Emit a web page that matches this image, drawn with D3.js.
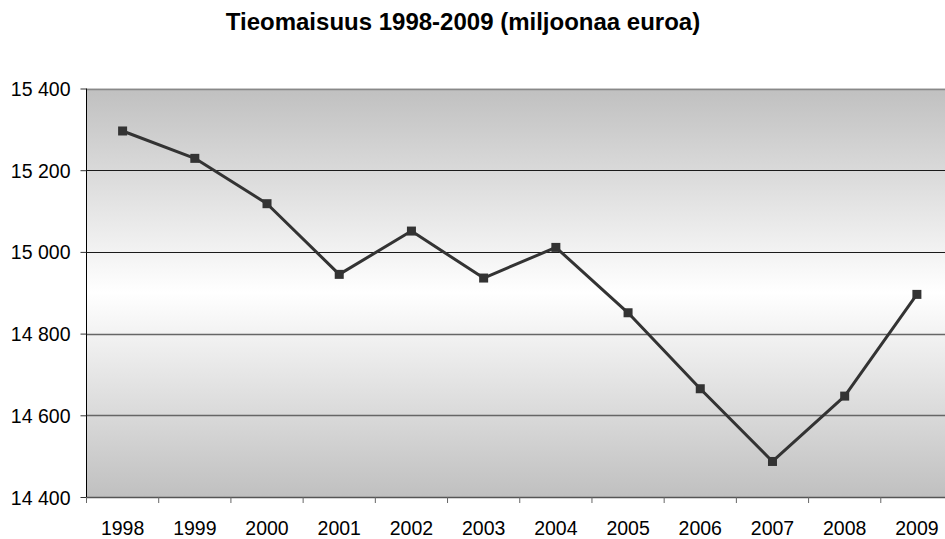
<!DOCTYPE html>
<html><head><meta charset="utf-8">
<script src="https://cdn.jsdelivr.net/npm/d3@7"></script>
<style>body{margin:0;background:#fff;overflow:hidden}svg{display:block}</style>
</head><body><svg id="c" width="945" height="539"></svg>
<script>
const years = ["1998","1999","2000","2001","2002","2003","2004","2005","2006","2007","2008","2009"];
const values = [15296,15229,15118,14945,15051,14936,15011,14851,14665,14487,14647,14896];
const yTicks = [14400,14600,14800,15000,15200,15400];
const title = "Tieomaisuus 1998-2009 (miljoonaa euroa)";

const svg = d3.select("#c");
const L = 86.5, R = 953, T = 88.5, B = 497;
const x = d3.scaleBand().domain(years).range([L, R]);
const y = d3.scaleLinear().domain([14400, 15400]).range([B, T]);
const font = "'Liberation Sans', Arial, sans-serif";

const defs = svg.append("defs");
const g = defs.append("linearGradient").attr("id","bg").attr("x1",0).attr("y1",0).attr("x2",0).attr("y2",1);
g.append("stop").attr("offset","0%").attr("stop-color","#c0c0c0");
g.append("stop").attr("offset","50%").attr("stop-color","#ffffff");
g.append("stop").attr("offset","100%").attr("stop-color","#c0c0c0");

svg.append("rect").attr("x",L).attr("y",T).attr("width",R-L).attr("height",B-T).attr("fill","url(#bg)");

// gridlines
yTicks.forEach(t => {
  if (t === 14400) return;
  svg.append("line").attr("x1",L).attr("x2",R).attr("y1",Math.round(y(t))+0.5).attr("y2",Math.round(y(t))+0.5)
    .attr("stroke", t===15400 ? "#888" : (t>=15000 ? "#1a1a1a" : "#666")).attr("stroke-width", t>=15000 && t<15400 ? 1 : 1.3);
});

// y axis
const ya = svg.append("g").attr("transform",`translate(${L},0)`)
  .call(d3.axisLeft(y).tickValues(yTicks).tickSize(6).tickPadding(10)
    .tickFormat(d => d3.format(",")(d).replace(",", " ")));
ya.select(".domain").attr("stroke","#000").attr("d",`M0,${T}V${B}`);
ya.selectAll("line").attr("stroke","#333");
ya.selectAll("text").attr("font-family",font).attr("font-size","19.5px").attr("fill","#000").attr("dy","0.36em");

// x axis
const xa = svg.append("g").attr("transform",`translate(0,${B})`)
  .call(d3.axisBottom(x).tickSize(0).tickPadding(24));
xa.select(".domain").attr("stroke","#555").attr("stroke-width",1.3);
xa.selectAll("text").attr("font-family",font).attr("font-size","19.5px").attr("fill","#000");
// ticks between categories
const bounds = years.map((d,i)=> x(d)).concat([R]);
xa.selectAll(".sep").data(bounds).enter().append("line").attr("class","sep")
  .attr("x1",d=>d).attr("x2",d=>d).attr("y1",0).attr("y2",6).attr("stroke","#666");

// line
const cx = d => x(d) + x.bandwidth()/2;
svg.append("path").datum(values.map((v,i)=>[years[i],v]))
  .attr("fill","none").attr("stroke","#333").attr("stroke-width",3).attr("stroke-linejoin","round")
  .attr("d", d3.line().x(d=>cx(d[0])).y(d=>y(d[1])));
svg.selectAll(".m").data(values).enter().append("rect").attr("class","m")
  .attr("x",(d,i)=>cx(years[i])-4.5).attr("y",d=>y(d)-4.5).attr("width",9).attr("height",9).attr("fill","#333");

svg.append("text").attr("x",463).attr("y",29.5).attr("text-anchor","middle")
  .attr("font-family",font).attr("font-weight","bold").attr("font-size","24px").text(title);
</script></body></html>
